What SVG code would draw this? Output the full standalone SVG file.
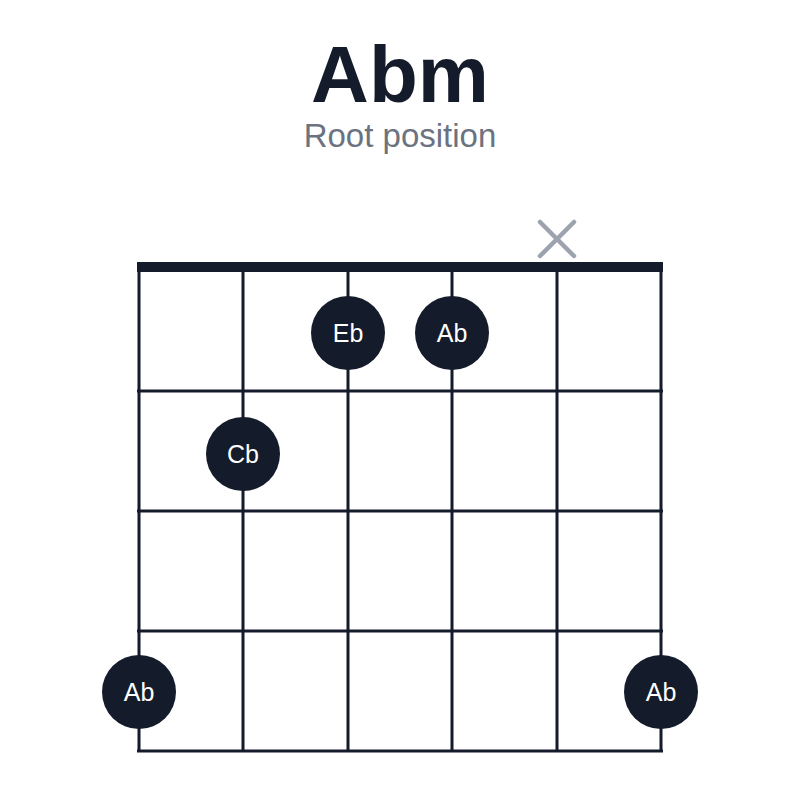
<svg xmlns="http://www.w3.org/2000/svg" width="800" height="800" viewBox="0 0 800 800">
<style>
.g{stroke:#141b2b;stroke-width:3;fill:none}
.d{fill:#141b2b}
.t{fill:#fff;font-family:"Liberation Sans",Arial,sans-serif;font-size:25px;text-anchor:middle}
</style>
<rect width="800" height="800" fill="#fff"/>
<text x="400" y="102" text-anchor="middle" font-family="Liberation Sans,Arial,sans-serif" font-weight="bold" font-size="80" fill="#141b2b">Abm</text>
<text x="400" y="147" text-anchor="middle" font-family="Liberation Sans,Arial,sans-serif" font-size="33" fill="#6b7280">Root position</text>
<g id="grid">
<line class="g" x1="139" y1="267" x2="139" y2="751"/>
<line class="g" x1="243" y1="267" x2="243" y2="751"/>
<line class="g" x1="348" y1="267" x2="348" y2="751"/>
<line class="g" x1="452" y1="267" x2="452" y2="751"/>
<line class="g" x1="557" y1="267" x2="557" y2="751"/>
<line class="g" x1="661" y1="267" x2="661" y2="751"/>
<line class="g" x1="137" y1="391" x2="663" y2="391"/>
<line class="g" x1="137" y1="511" x2="663" y2="511"/>
<line class="g" x1="137" y1="631" x2="663" y2="631"/>
<line class="g" x1="137" y1="751" x2="663" y2="751"/>
<line x1="137" y1="267" x2="663" y2="267" stroke="#141b2b" stroke-width="10"/>
</g>
<g id="mute" stroke="#9ca3af" stroke-width="4.5" stroke-linecap="round">
<line x1="540" y1="222" x2="574" y2="256"/><line x1="574" y1="222" x2="540" y2="256"/>
</g>
<g id="n1"><circle class="d" cx="348" cy="333" r="37"/><text class="t" x="348" y="342">Eb</text></g>
<g id="n2"><circle class="d" cx="452" cy="333" r="37"/><text class="t" x="452" y="342">Ab</text></g>
<g id="n3"><circle class="d" cx="243" cy="454" r="37"/><text class="t" x="243" y="463">Cb</text></g>
<g id="n4"><circle class="d" cx="139" cy="692" r="37"/><text class="t" x="139" y="701">Ab</text></g>
<g id="n5"><circle class="d" cx="661" cy="692" r="37"/><text class="t" x="661" y="701">Ab</text></g>
</svg>
